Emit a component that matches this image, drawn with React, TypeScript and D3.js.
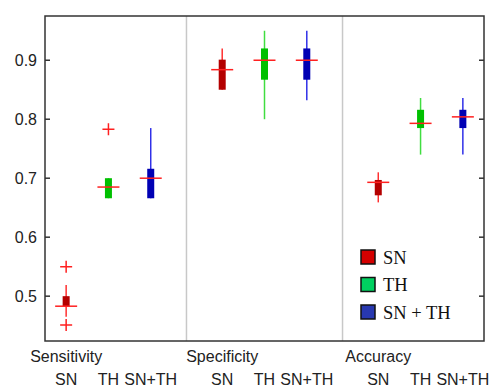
import * as d3 from 'd3';
import { useEffect, useRef } from 'react';

const WIDTH = 492;
const HEIGHT = 388;

const metrics = ['Sensitivity', 'Specificity', 'Accuracy'];
const methods = ['SN', 'TH', 'SN+TH'];
const legendLabels = ['SN', 'TH', 'SN + TH'];
const yTicks = [0.5, 0.6, 0.7, 0.8, 0.9];

// per metric: [lower whisker, q1, median, q3, upper whisker]
const snStats = [
    [0.465, 0.483, 0.483, 0.5, 0.519],
    [0.85, 0.85, 0.884, 0.901, 0.92],
    [0.659, 0.671, 0.693, 0.697, 0.71],
];
const thStats = [
    [0.666, 0.666, 0.685, 0.7, 0.7],
    [0.8, 0.867, 0.9, 0.92, 0.95],
    [0.74, 0.785, 0.793, 0.816, 0.836],
];
const snthStats = [
    [0.666, 0.666, 0.7, 0.716, 0.785],
    [0.832, 0.867, 0.9, 0.92, 0.95],
    [0.74, 0.785, 0.804, 0.816, 0.836],
];
const snOutliers = [[0.55, 0.451], [], []];
const thOutliers = [[0.783], [], []];
const snthOutliers = [[], [], []];

const boxColors = ['#b40000', '#00c000', '#0000b4'];
const whiskerColors = ['#ff3030', '#40dd40', '#3030e8'];
const legendColors = ['#d40000', '#00d060', '#2838b0'];

const GROUP_STEP = 3.69;

export default function App() {
    const svgRef = useRef<SVGSVGElement | null>(null);

    useEffect(() => {
        if (!svgRef.current) {
            return;
        }
        const svg = d3.select(svgRef.current);
        svg.selectAll('*').remove();

        const margin = { top: 16, right: 8, bottom: 47, left: 45 };
        const x = d3
            .scaleLinear()
            .domain([-0.5, 2 * GROUP_STEP + 2.5])
            .range([margin.left, WIDTH - margin.right]);
        const y = d3
            .scaleLinear()
            .domain([0.424, 0.975])
            .range([HEIGHT - margin.bottom, margin.top]);

        const [x0, x1] = x.range();
        const [yb, yt] = y.range();
        const sans = 'Liberation Sans, Arial, sans-serif';

        const allStats = [snStats, thStats, snthStats];
        const allOutliers = [snOutliers, thOutliers, snthOutliers];

        // group separators, halfway between last box of one group and first of the next
        for (let g = 1; g < metrics.length; g++) {
            const sx = x(((g - 1) * GROUP_STEP + 2 + g * GROUP_STEP) / 2);
            svg.append('line')
                .attr('x1', sx)
                .attr('x2', sx)
                .attr('y1', yt)
                .attr('y2', yb)
                .attr('stroke', '#c8c8c8')
                .attr('stroke-width', 1.5);
        }

        // boxes
        metrics.forEach((_, g) => {
            methods.forEach((__, i) => {
                const [lo, q1, med, q3, hi] = allStats[i][g];
                const cx = x(g * GROUP_STEP + i);
                svg.append('line')
                    .attr('x1', cx)
                    .attr('x2', cx)
                    .attr('y1', y(lo))
                    .attr('y2', y(hi))
                    .attr('stroke', whiskerColors[i])
                    .attr('stroke-width', 1.5);
                svg.append('rect')
                    .attr('x', cx - 3.5)
                    .attr('width', 7)
                    .attr('y', y(q3))
                    .attr('height', Math.max(1.5, y(q1) - y(q3)))
                    .attr('fill', boxColors[i]);
                svg.append('line')
                    .attr('x1', cx - 11)
                    .attr('x2', cx + 11)
                    .attr('y1', y(med))
                    .attr('y2', y(med))
                    .attr('stroke', '#ff2020')
                    .attr('stroke-width', 1.5);
                allOutliers[i][g].forEach((v) => {
                    svg.append('path')
                        .attr('d', `M${cx - 6},${y(v)}H${cx + 6}M${cx},${y(v) - 6}V${y(v) + 6}`)
                        .attr('stroke', '#ff2020')
                        .attr('stroke-width', 1.5)
                        .attr('fill', 'none');
                });
            });
        });

        // frame
        svg.append('rect')
            .attr('x', x0)
            .attr('y', yt)
            .attr('width', x1 - x0)
            .attr('height', yb - yt)
            .attr('fill', 'none')
            .attr('stroke', '#333')
            .attr('stroke-width', 1.5);

        // y ticks, left and right, pointing inward
        yTicks.forEach((t) => {
            svg.append('line')
                .attr('x1', x0)
                .attr('x2', x0 + 5)
                .attr('y1', y(t))
                .attr('y2', y(t))
                .attr('stroke', '#333')
                .attr('stroke-width', 1.5);
            svg.append('line')
                .attr('x1', x1)
                .attr('x2', x1 - 5)
                .attr('y1', y(t))
                .attr('y2', y(t))
                .attr('stroke', '#333')
                .attr('stroke-width', 1.5);
            svg.append('text')
                .attr('x', x0 - 8)
                .attr('y', y(t))
                .attr('dy', '0.36em')
                .attr('text-anchor', 'end')
                .attr('font-family', sans)
                .attr('font-size', 16)
                .attr('fill', '#222')
                .text(t.toFixed(1));
        });

        // category labels
        metrics.forEach((m, g) => {
            svg.append('text')
                .attr('x', x(g * GROUP_STEP))
                .attr('y', yb + 21)
                .attr('text-anchor', 'middle')
                .attr('font-family', sans)
                .attr('font-size', 16)
                .attr('fill', '#222')
                .text(m);
            methods.forEach((name, i) => {
                svg.append('text')
                    .attr('x', x(g * GROUP_STEP + i))
                    .attr('y', yb + 44)
                    .attr('text-anchor', 'middle')
                    .attr('font-family', sans)
                    .attr('font-size', 16)
                    .attr('fill', '#222')
                    .text(name);
            });
        });

        // legend
        const leg = svg.append('g').attr('transform', 'translate(361,250)');
        legendLabels.forEach((label, i) => {
            const row = leg.append('g').attr('transform', `translate(0,${i * 27.5})`);
            row.append('rect')
                .attr('width', 14)
                .attr('height', 14)
                .attr('fill', legendColors[i])
                .attr('stroke', '#111')
                .attr('stroke-width', 1.5);
            row.append('text')
                .attr('x', 22)
                .attr('y', 13.5)
                .attr('font-family', 'Liberation Serif, Times New Roman, serif')
                .attr('font-size', 18.5)
                .attr('fill', '#111')
                .text(label);
        });
    }, []);

    return (
        <svg
            ref={svgRef}
            width={WIDTH}
            height={HEIGHT}
            style={{ position: 'absolute', left: 0, top: 0, background: '#fff' }}
        />
    );
}
